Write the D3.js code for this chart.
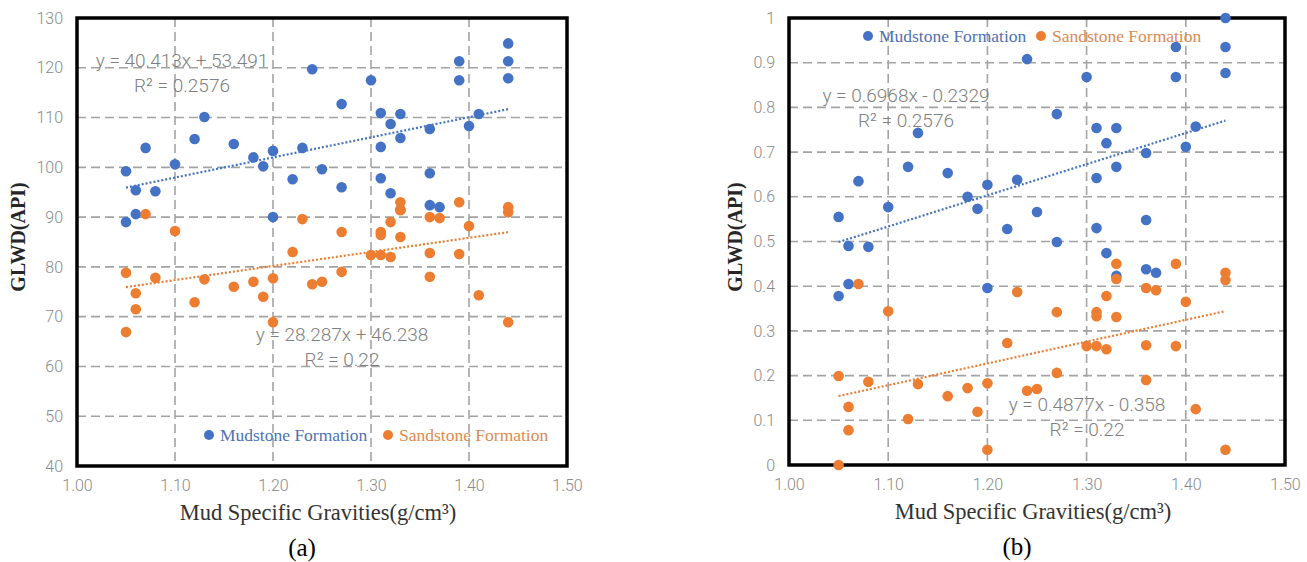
<!DOCTYPE html>
<html>
<head>
<meta charset="utf-8">
<script src="https://cdn.jsdelivr.net/npm/d3@7/dist/d3.min.js"></script>
<style>
  body { margin: 0; background: #fff; }
  .tick text { font-family: Roboto, "Noto Sans", sans-serif; font-weight: 300; fill: #8a8a8a; font-size: 16px; }
</style>
</head>
<body>
<svg id="chart" width="1307" height="562"></svg>
<script>
// mud specific gravity of every sample (same wells in both panels)
const gravity = [1.05, 1.05, 1.06, 1.06, 1.07, 1.08, 1.10, 1.12, 1.13, 1.16, 1.18, 1.19, 1.20, 1.20,
  1.22, 1.23, 1.24, 1.25, 1.27, 1.27, 1.30, 1.31, 1.31, 1.31, 1.32, 1.32, 1.33, 1.33, 1.33,
  1.36, 1.36, 1.36, 1.37, 1.39, 1.39, 1.40, 1.41, 1.44, 1.44, 1.44];

// (a) GLWD in API
const mudA = [99.2, 89.0, 95.4, 90.6, 103.9, 95.2, 100.6, 105.7, 110.1, 104.7, 102.0, 100.2, 103.3, 90.0,
  97.6, 103.9, 119.7, 99.6, 112.7, 96.0, 117.5, 110.9, 104.1, 97.8, 108.7, 94.8, 110.7, 105.9, 91.5,
  107.7, 98.8, 92.4, 92.0, 121.3, 117.5, 108.3, 110.7, 124.9, 121.3, 117.9];
const sandA = [78.8, 66.9, 74.7, 71.5, 90.6, 77.8, 87.2, 72.9, 77.5, 76.0, 77.0, 74.0, 77.7, 68.9,
  83.0, 89.6, 76.5, 77.0, 87.0, 79.0, 82.4, 87.0, 86.4, 82.4, 89.0, 82.0, 93.0, 91.4, 86.0,
  90.0, 82.8, 78.0, 89.8, 93.0, 82.6, 88.2, 74.3, 92.0, 91.0, 68.9];

// (b) normalised GLWD
const mudB = [0.555, 0.378, 0.490, 0.405, 0.635, 0.488, 0.577, 0.667, 0.743, 0.653, 0.600, 0.573, 0.627, 0.396,
  0.528, 0.638, 0.908, 0.566, 0.785, 0.499, 0.868, 0.754, 0.642, 0.530, 0.720, 0.474, 0.754, 0.667, 0.423,
  0.698, 0.548, 0.438, 0.430, 0.935, 0.868, 0.712, 0.757, 1.000, 0.935, 0.877];
const sandB = [0.199, 0.000, 0.130, 0.078, 0.405, 0.186, 0.344, 0.103, 0.181, 0.154, 0.172, 0.119, 0.183, 0.034,
  0.273, 0.387, 0.166, 0.170, 0.342, 0.206, 0.266, 0.342, 0.333, 0.266, 0.378, 0.259, 0.450, 0.416, 0.331,
  0.396, 0.268, 0.190, 0.391, 0.450, 0.266, 0.365, 0.125, 0.430, 0.414, 0.034];

// linear trendlines [slope, intercept] and their labels
const trendA = [[40.413, 53.491], [28.287, 46.238]];
const trendB = [[0.6968, -0.2329], [0.4877, -0.358]];
const trendTextA = [['y = 40.413x + 53.491', 'R\u00b2 = 0.2576'], ['y = 28.287x + 46.238', 'R\u00b2 = 0.22']];
const trendTextB = [['y = 0.6968x - 0.2329', 'R\u00b2 = 0.2576'], ['y = 0.4877x - 0.358', 'R\u00b2 = 0.22']];

const xTicks = [1.0, 1.1, 1.2, 1.3, 1.4, 1.5];
const yTicksA = [40, 50, 60, 70, 80, 90, 100, 110, 120, 130];
const yTicksB = [0, 0.1, 0.2, 0.3, 0.4, 0.5, 0.6, 0.7, 0.8, 0.9, 1];

const seriesNames = ['Mudstone Formation', 'Sandstone Formation'];
const colors = ['#4472C4', '#ED7D31'];
const legendText = ['#4d72b3', '#dd8a50'];

const svg = d3.select('#chart');

const panels = [
  { tag: '(a)', mud: mudA, sand: sandA, trend: trendA, trendText: trendTextA,
    yDomain: [40, 130], yTicks: yTicksA, yFmt: d3.format('d'),
    left: 77, right: 567, top: 18, bottom: 466,
    eqPos: [[182, 60], [342, 334]], legend: [[209, 435], [388, 435]], yTitleX: 18 },
  { tag: '(b)', mud: mudB, sand: sandB, trend: trendB, trendText: trendTextB,
    yDomain: [0, 1], yTicks: yTicksB, yFmt: d3.format('~g'),
    left: 789, right: 1285, top: 18, bottom: 465,
    eqPos: [[906, 95], [1087, 404]], legend: [[868, 36], [1041, 36]], yTitleX: 735 }
];

panels.forEach((p) => {
  const x = d3.scaleLinear().domain([1.0, 1.5]).range([p.left, p.right]);
  const y = d3.scaleLinear().domain(p.yDomain).range([p.bottom, p.top]);
  const g = svg.append('g');

  // dashed grid
  g.selectAll('line.hgrid')
    .data(p.yTicks.slice(1, -1))
    .enter().append('line')
    .attr('x1', p.left).attr('x2', p.right)
    .attr('y1', (d) => y(d)).attr('y2', (d) => y(d))
    .attr('stroke', '#a3a3a3').attr('stroke-width', 1.6).attr('stroke-dasharray', '9,5');
  g.selectAll('line.vgrid')
    .data(xTicks.slice(1, -1))
    .enter().append('line')
    .attr('x1', (d) => x(d)).attr('x2', (d) => x(d))
    .attr('y1', p.top).attr('y2', p.bottom)
    .attr('stroke', '#a3a3a3').attr('stroke-width', 1.6).attr('stroke-dasharray', '9,5');

  // axes (labels only)
  g.append('g')
    .attr('transform', 'translate(' + p.left + ',0)')
    .call(d3.axisLeft(y).tickValues(p.yTicks).tickFormat(p.yFmt).tickSize(0).tickPadding(14))
    .call((a) => a.select('.domain').remove());
  g.append('g')
    .attr('transform', 'translate(0,' + p.bottom + ')')
    .call(d3.axisBottom(x).tickValues(xTicks).tickFormat(d3.format('.2f')).tickSize(0).tickPadding(14))
    .call((a) => a.select('.domain').remove());

  // frame
  g.append('rect')
    .attr('x', p.left).attr('y', p.top)
    .attr('width', p.right - p.left).attr('height', p.bottom - p.top)
    .attr('fill', 'none').attr('stroke', '#000').attr('stroke-width', 3.5);

  // equation labels
  p.trendText.forEach((lines, i) => {
    lines.forEach((t, j) => {
      g.append('text')
        .attr('x', p.eqPos[i][0]).attr('y', p.eqPos[i][1] + j * 25)
        .attr('dy', '0.35em')
        .attr('text-anchor', 'middle')
        .attr('font-family', 'Roboto, "Noto Sans", sans-serif').attr('font-weight', 300)
        .attr('font-size', 19).attr('fill', '#808080')
        .text(t);
    });
  });

  // points
  [p.mud, p.sand].forEach((vals, i) => {
    g.selectAll('circle.s' + i)
      .data(vals)
      .enter().append('circle')
      .attr('cx', (d, k) => x(gravity[k]))
      .attr('cy', (d) => y(d))
      .attr('r', 5.3)
      .attr('fill', colors[i]);
  });

  // trendlines
  const x0 = d3.min(gravity), x1 = d3.max(gravity);
  p.trend.forEach((c, i) => {
    g.append('line')
      .attr('x1', x(x0)).attr('y1', y(c[0] * x0 + c[1]))
      .attr('x2', x(x1)).attr('y2', y(c[0] * x1 + c[1]))
      .attr('stroke', colors[i]).attr('stroke-width', 2.2)
      .attr('stroke-dasharray', '2,2');
  });

  // legend
  seriesNames.forEach((name, i) => {
    g.append('circle')
      .attr('cx', p.legend[i][0]).attr('cy', p.legend[i][1])
      .attr('r', 5).attr('fill', colors[i]);
    g.append('text')
      .attr('x', p.legend[i][0] + 11).attr('y', p.legend[i][1])
      .attr('dy', '0.35em')
      .attr('font-family', '"Liberation Serif", "Times New Roman", serif')
      .attr('font-size', 17.5).attr('fill', legendText[i])
      .text(name);
  });

  // axis titles and tag
  g.append('text')
    .attr('transform', 'translate(' + p.yTitleX + ',' + 237 + ') rotate(-90)')
    .attr('dy', '0.35em')
    .attr('text-anchor', 'middle')
    .attr('font-family', '"Liberation Serif", "Times New Roman", serif')
    .attr('font-weight', 'bold').attr('font-size', 20).attr('fill', '#262626')
    .text('GLWD(API)');
  g.append('text')
    .attr('x', (p.left + p.right) / 2 - 4).attr('y', p.bottom + 46)
    .attr('dy', '0.35em')
    .attr('text-anchor', 'middle')
    .attr('font-family', '"Liberation Serif", "Times New Roman", serif')
    .attr('font-size', 22.5).attr('fill', '#333')
    .text('Mud Specific Gravities(g/cm\u00b3)');
  g.append('text')
    .attr('x', (p.left + p.right) / 2 - 20).attr('y', p.bottom + 81)
    .attr('dy', '0.35em')
    .attr('text-anchor', 'middle')
    .attr('font-family', '"Liberation Serif", "Times New Roman", serif')
    .attr('font-size', 25).attr('fill', '#000')
    .text(p.tag);
});
</script>
</body>
</html>
